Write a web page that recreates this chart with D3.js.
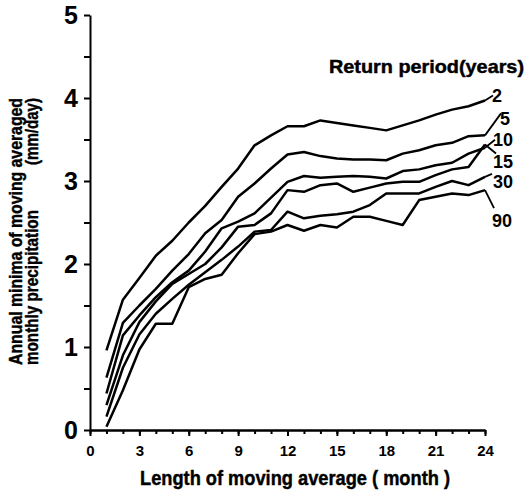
<!DOCTYPE html>
<html lang="en">
<head>
	<meta charset="utf-8">
	<title>Annual minima of moving averaged monthly precipitation</title>
	<script src="https://d3js.org/d3.v7.min.js"></script>
	<style type="text/css">
		body { margin: 0; background: #fff; }
		svg { display: block; }
		text { font-family: "Liberation Sans", Arial, sans-serif; font-weight: bold; fill: #000; }
		text.title { stroke: #000; stroke-width: 0.45px; }
	</style>
</head>
<body>
<script type="text/javascript">

	//Width and height
	let w = 526;
	let h = 494;

	// length of moving average (month)
	let months = [1, 2, 3, 4, 5, 6, 7, 8, 9, 10, 11, 12, 13, 14, 15, 16, 17, 18, 19, 20, 21, 22, 23, 24];
	let xMajor = [0, 3, 6, 9, 12, 15, 18, 21, 24];
	let xMinor = [0, 1, 2, 3, 4, 5, 6, 7, 8, 9, 10, 11, 12, 13, 14, 15, 16, 17, 18, 19, 20, 21, 22, 23, 24];
	let yTicks = [0, 0.5, 1, 1.5, 2, 2.5, 3, 3.5, 4, 4.5, 5];

	// return periods (years)
	let periods = ["2", "5", "10", "15", "30", "90"];

	// annual minima (mm/day), one list per return period
	let rp2 = [0.96, 1.57, 1.83, 2.1, 2.28, 2.5, 2.7, 2.93, 3.15, 3.43, 3.55, 3.66, 3.66, 3.73, 3.7, 3.67, 3.64, 3.61, 3.67, 3.73, 3.8, 3.86, 3.9, 3.97];
	let rp5 = [0.63, 1.29, 1.5, 1.7, 1.92, 2.12, 2.37, 2.53, 2.81, 2.97, 3.15, 3.32, 3.35, 3.3, 3.27, 3.26, 3.26, 3.25, 3.33, 3.37, 3.43, 3.46, 3.54, 3.55];
	let rp10 = [0.44, 1.14, 1.38, 1.6, 1.78, 1.92, 2.15, 2.43, 2.51, 2.61, 2.8, 2.99, 3.06, 3.04, 3.05, 3.06, 3.05, 3.03, 3.12, 3.14, 3.19, 3.22, 3.33, 3.4];
	let rp15 = [0.3, 0.9, 1.3, 1.55, 1.76, 1.88, 2.0, 2.2, 2.45, 2.47, 2.61, 2.89, 2.87, 2.95, 2.97, 2.87, 2.92, 2.97, 2.99, 2.99, 3.07, 3.14, 3.17, 3.44];
	let rp30 = [0.16, 0.75, 1.15, 1.4, 1.58, 1.75, 1.9, 2.05, 2.21, 2.39, 2.41, 2.63, 2.55, 2.58, 2.6, 2.63, 2.71, 2.85, 2.85, 2.85, 2.93, 3.0, 2.95, 3.05];
	let rp90 = [0.04, 0.48, 0.97, 1.28, 1.28, 1.72, 1.82, 1.87, 2.13, 2.36, 2.39, 2.47, 2.4, 2.47, 2.44, 2.57, 2.57, 2.52, 2.47, 2.77, 2.81, 2.85, 2.83, 2.89];

	let series = [rp2, rp5, rp10, rp15, rp30, rp90];

	// where each period label sits, in px from the end of its line
	// [label dx, label dy, leader dx, leader dy]
	let labelPos = [
		[7, 2, 8, -5],
		[15, -10, 16, -22],
		[8, -2, 10, -8],
		[8, 24, 11, 9],
		[8, 11, 7, -3],
		[7, 37, 9, 18]
	];

	let xScale = d3.scaleLinear()
		.domain([0, 24])
		.range([90, 485]);

	let yScale = d3.scaleLinear()
		.domain([0, 5])
		.range([430, 15]);

	//Create SVG element
	let svg = d3.select("body")
		.append("svg")
		.attr("width", w)
		.attr("height", h);

	// y axis
	let yAxis = svg.append("g")
		.attr("transform", "translate(" + xScale(0) + ",0)")
		.call(d3.axisLeft(yScale)
			.tickValues(yTicks)
			.tickSize(6)
			.tickSizeOuter(0)
			.tickPadding(6)
			.tickFormat(function (d) { return Number.isInteger(d) ? d : ""; }));
	yAxis.selectAll("text").attr("font-size", "25px");

	// x axis, minor ticks then major ticks with labels
	svg.append("g")
		.attr("transform", "translate(0," + yScale(0) + ")")
		.call(d3.axisBottom(xScale)
			.tickValues(xMinor)
			.tickSize(4)
			.tickSizeOuter(0)
			.tickFormat(""));

	let xAxis = svg.append("g")
		.attr("transform", "translate(0," + yScale(0) + ")")
		.call(d3.axisBottom(xScale)
			.tickValues(xMajor)
			.tickSize(6)
			.tickSizeOuter(0)
			.tickPadding(9));
	xAxis.selectAll("text").attr("font-size", "15px");

	svg.selectAll(".domain").attr("stroke-width", 2);
	svg.selectAll(".tick line").attr("stroke-width", 2);

	// lines
	let line = d3.line()
		.x(function (d, i) { return xScale(months[i]); })
		.y(function (d) { return yScale(d); });

	svg.selectAll("path.rp")
		.data(series)
		.enter()
		.append("path")
		.attr("class", "rp")
		.attr("d", line)
		.attr("fill", "none")
		.attr("stroke", "#000")
		.attr("stroke-width", 2.5)
		.attr("stroke-linejoin", "round");

	// leaders and period labels
	let xEnd = xScale(months[months.length - 1]);
	series.forEach(function (s, i) {
		let yEnd = yScale(s[s.length - 1]);
		let p = labelPos[i];
		svg.append("line")
			.attr("x1", xEnd)
			.attr("y1", yEnd)
			.attr("x2", xEnd + p[2])
			.attr("y2", yEnd + p[3])
			.attr("stroke", "#000")
			.attr("stroke-width", 1.8);
		svg.append("text")
			.attr("x", xEnd + p[0])
			.attr("y", yEnd + p[1])
			.attr("font-size", "18px")
			.text(periods[i]);
	});

	svg.append("text")
		.attr("class", "title")
		.attr("x", 329)
		.attr("y", 73)
		.attr("font-size", "19px")
		.attr("textLength", 195)
		.attr("lengthAdjust", "spacingAndGlyphs")
		.text("Return period(years)");

	// axis titles
	svg.append("text")
		.attr("class", "title")
		.attr("x", 140)
		.attr("y", 485)
		.attr("font-size", "21px")
		.attr("textLength", 310)
		.attr("lengthAdjust", "spacingAndGlyphs")
		.text("Length of moving average  ( month )");

	svg.append("text")
		.attr("class", "title")
		.attr("transform", "translate(22,365) rotate(-90)")
		.attr("font-size", "19px")
		.attr("textLength", 267)
		.attr("lengthAdjust", "spacingAndGlyphs")
		.text("Annual minima of moving averaged");

	svg.append("text")
		.attr("class", "title")
		.attr("transform", "translate(38,365) rotate(-90)")
		.attr("font-size", "19px")
		.attr("textLength", 155)
		.attr("lengthAdjust", "spacingAndGlyphs")
		.text("monthly precipitation");

	svg.append("text")
		.attr("class", "title")
		.attr("transform", "translate(38,98) rotate(-90)")
		.attr("text-anchor", "end")
		.attr("font-size", "19px")
		.attr("textLength", 67)
		.attr("lengthAdjust", "spacingAndGlyphs")
		.text("(mm/day)");

</script>
</body>
</html>
